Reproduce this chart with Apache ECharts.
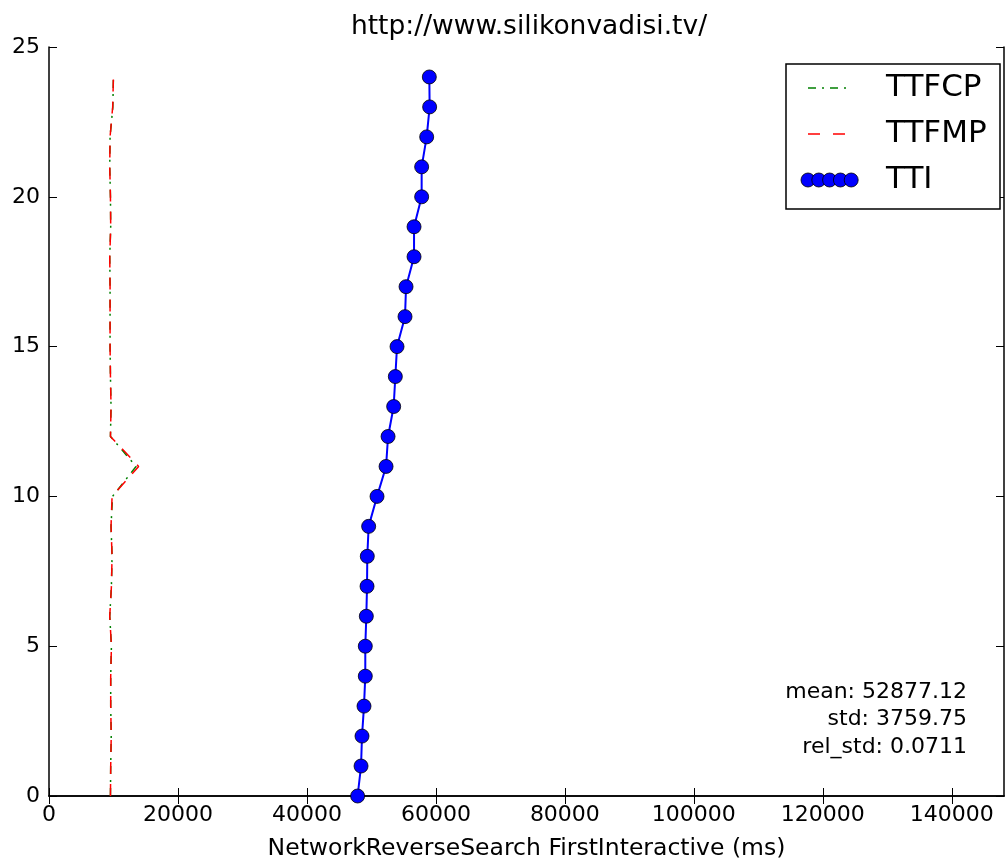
<!DOCTYPE html>
<html>
<head>
<meta charset="utf-8">
<script src="https://cdn.jsdelivr.net/npm/echarts@6/dist/echarts.min.js"></script>
<style>
  html, body { margin: 0; padding: 0; background: #fff; }
  #chart { width: 1005px; height: 865px; }
</style>
</head>
<body>
<div id="chart"></div>
<script>
// run index (y axis)
const runs = [0, 1, 2, 3, 4, 5, 6, 7, 8, 9, 10, 11, 12, 13, 14, 15, 16, 17, 18, 19, 20, 21, 22, 23, 24]

// times in ms, one per run
const ttfcp = [9530, 9570, 9650, 9570, 9570, 9680, 9420, 9680, 9780, 9620, 9850, 13500, 9530,
  9620, 9530, 9470, 9470, 9470, 9420, 9570, 9530, 9420, 9470, 9900, 9990]
const ttfmp = [9530, 9570, 9650, 9570, 9570, 9680, 9420, 9680, 9780, 9620, 9780, 13900, 9530,
  9620, 9530, 9470, 9470, 9470, 9420, 9570, 9530, 9420, 9470, 9880, 9990]
const tti = [47860, 48390, 48540, 48850, 49050, 49050, 49210, 49320, 49360, 49570, 50870, 52270, 52580,
  53450, 53710, 53970, 55210, 55370, 56610, 56610, 57790, 57790, 58570, 59030, 58980]

const xTicks = [0, 20000, 40000, 60000, 80000, 100000, 120000, 140000]
const statLines = ['mean: 52877.12', 'std: 3759.75', 'rel_std: 0.0711']

const FONT = '"DejaVu Sans", sans-serif'
const pairs = vals => vals.map((v, i) => [v, runs[i]])

const chart = echarts.init(document.getElementById('chart'))

const xAxisBase = {
  type: 'value',
  min: 0,
  max: 148100,
  splitLine: { show: false },
  axisLine: { lineStyle: { color: '#000', width: 1.5 } },
  axisTick: { inside: true, length: 8, customValues: xTicks, lineStyle: { color: '#000' } }
}
const yAxisBase = {
  type: 'value',
  min: 0,
  max: 25,
  interval: 5,
  splitLine: { show: false },
  axisLine: { onZero: false, lineStyle: { color: '#000', width: 1.5 } },
  axisTick: { inside: true, length: 8, lineStyle: { color: '#000' } }
}

function legendGraphics() {
  const g = [{
    type: 'rect', shape: { x: 786, y: 64, width: 214, height: 145 },
    style: { fill: '#fff', stroke: '#000', lineWidth: 1.5 }, z: 100
  }]
  const rows = [
    { y: 88, label: 'TTFCP', color: '#008000', dash: [8, 6, 2, 6] },
    { y: 134, label: 'TTFMP', color: '#ff0000', dash: [12, 13] }
  ]
  rows.forEach(r => {
    g.push({
      type: 'line', shape: { x1: 808, y1: r.y, x2: 847, y2: r.y },
      style: { stroke: r.color, lineWidth: 1.5, lineDash: r.dash }, z: 101
    })
    g.push({
      type: 'text', x: 886, y: r.y,
      style: { text: r.label, font: '31px ' + FONT, fill: '#000', textVerticalAlign: 'middle' }, z: 101
    })
  })
  for (let k = 0; k < 5; k++) {
    g.push({
      type: 'circle', shape: { cx: 808 + k * 10.8, cy: 180, r: 7 },
      style: { fill: '#0000ff', stroke: '#000', lineWidth: 0.8 }, z: 101
    })
  }
  g.push({
    type: 'text', x: 886, y: 180,
    style: { text: 'TTI', font: '31px ' + FONT, fill: '#000', textVerticalAlign: 'middle' }, z: 101
  })
  return g
}

const option = {
  animation: false,
  backgroundColor: '#fff',
  grid: { left: 49, right: 1, top: 47, bottom: 69, outerBoundsMode: 'none' },
  xAxis: [
    {
      ...xAxisBase,
      position: 'bottom',
      name: 'NetworkReverseSearch FirstInteractive (ms)',
      nameLocation: 'middle',
      nameGap: 41,
      nameTextStyle: { fontFamily: FONT, fontSize: 23.5, color: '#000' },
      axisLabel: {
        customValues: xTicks, fontFamily: FONT, fontSize: 22, color: '#000', margin: 8,
        formatter: v => String(v)
      }
    },
    { ...xAxisBase, position: 'top', axisLabel: { show: false } }
  ],
  yAxis: [
    {
      ...yAxisBase,
      position: 'left',
      axisLabel: { fontFamily: FONT, fontSize: 22, color: '#000', margin: 9 }
    },
    { ...yAxisBase, position: 'right', axisLabel: { show: false } }
  ],
  series: [
    {
      name: 'TTFCP', type: 'line', data: pairs(ttfcp), showSymbol: false, z: 2,
      lineStyle: { color: '#008000', width: 1.5, type: [8, 6, 2, 6] }
    },
    {
      name: 'TTFMP', type: 'line', data: pairs(ttfmp), showSymbol: false, z: 3,
      lineStyle: { color: '#ff0000', width: 1.5, type: [12, 10] }
    },
    {
      name: 'TTI', type: 'line', data: pairs(tti), z: 4,
      symbol: 'circle', symbolSize: 14,
      lineStyle: { color: '#0000ff', width: 2 },
      itemStyle: { color: '#0000ff', borderColor: '#000', borderWidth: 0.8 }
    }
  ],
  graphic: [
    {
      type: 'text', x: 529, y: 27,
      style: {
        text: 'http://www.silikonvadisi.tv/', font: '26.5px ' + FONT, fill: '#000',
        textAlign: 'center', textVerticalAlign: 'middle'
      }
    },
    ...statLines.map((t, i) => ({
      type: 'text', x: 967, y: 692 + i * 27.5,
      style: { text: t, font: '22px ' + FONT, fill: '#000', textAlign: 'right', textVerticalAlign: 'middle' }
    })),
    ...legendGraphics()
  ]
}

chart.setOption(option)
</script>
</body>
</html>
